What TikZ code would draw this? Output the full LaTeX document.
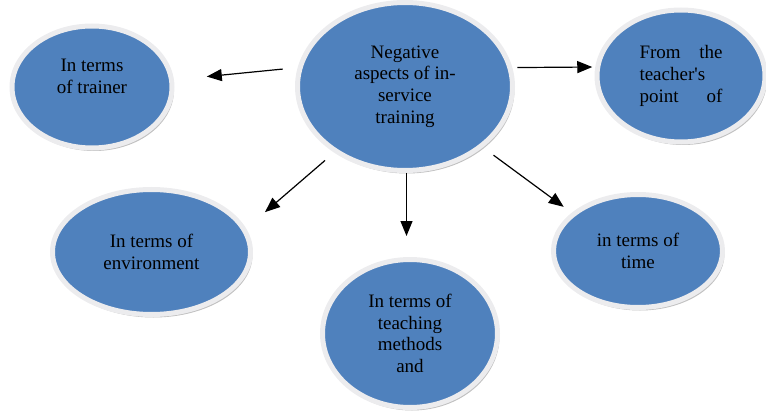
\documentclass[tikz,border=0pt]{standalone}
\usepackage{fontspec}
\setmainfont{Liberation Serif}
\usetikzlibrary{shapes.geometric,arrows.meta,shadows}
\definecolor{bubble}{RGB}{79,129,189}
\definecolor{rim}{RGB}{236,236,238}

\begin{document}
\begin{tikzpicture}[x=1pt,y=-1pt,
    aspect/.style={ellipse,fill=bubble,draw=rim,line width=5pt,inner sep=2pt,
      font=\fontsize{19}{21.7}\selectfont,align=center,
      drop shadow={shadow xshift=2pt,shadow yshift=-3pt,fill=black!55,opacity=.45}},
    arr/.style={-{Triangle[length=15pt,width=12pt]},line width=1.2pt}]
    \useasboundingbox (0,0) rectangle (766,417);
    % centre bubble
    \node[aspect,minimum width=215pt,minimum height=168pt] (neg) at (405,86.5)
      {Negative\\aspects of in-\\service\\training};
    % the five sides
    \node[aspect,minimum width=160pt,minimum height=122pt] (trainer) at (92,87)
      {In terms\\of trainer\\\mbox{}};
    \node[aspect,minimum width=168pt,minimum height=132pt,text width=83pt,align=left] (teacher) at (681,76)
      {From\hfill the\\teacher\textquotesingle s\\point\hfill of};
    \node[aspect,minimum width=198pt,minimum height=125pt] (env) at (151.5,252)
      {In terms of\\environment};
    \node[aspect,minimum width=175pt,minimum height=148pt] (teach) at (410,333.5)
      {In terms of\\teaching\\methods\\and};
    \node[aspect,minimum width=169pt,minimum height=113pt] (time) at (638,251)
      {in terms of\\time};
    % arrows out of the centre
    \draw[arr,shorten <=15pt,shorten >=33pt] (neg.170) -- (trainer.5);
    \draw[arr,shorten <=5pt,shorten >=3pt] (neg.10) -- (teacher.174);
    \draw[arr,shorten <=12pt,shorten >=25pt] (neg.223) -- (env.14);
    \draw[arr,shorten >=21pt] (neg.271) -- (neg.271 |- teach.north);
    \draw[arr,shorten <=13pt,shorten >=10pt] (neg.322) -- (time.150);
\end{tikzpicture}
\end{document}
